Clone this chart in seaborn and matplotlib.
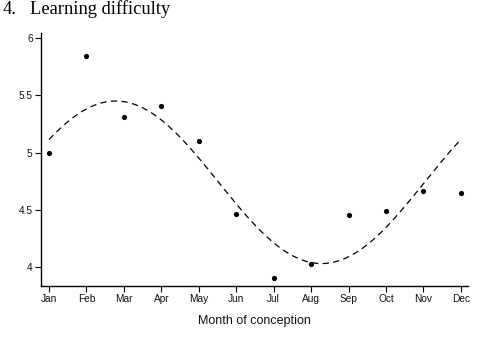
import numpy as np
import pandas as pd
import matplotlib
matplotlib.use("Agg")
import matplotlib.pyplot as plt
import seaborn as sns

# Data
months = ["Jan", "Feb", "Mar", "Apr", "May", "Jun",
          "Jul", "Aug", "Sep", "Oct", "Nov", "Dec"]
month_num = list(range(1, 13))
observed = [5.00, 5.84, 5.31, 5.41, 5.10, 4.46,
            3.90, 4.03, 4.45, 4.49, 4.66, 4.65]
y_ticks = [4, 4.5, 5, 5.5, 6]
y_tick_labels = ["4", "4.5", "5", "5.5", "6"]

# Fitted cosinor curve parameters
fit_mean = 4.74
fit_amplitude = 0.71
fit_peak_month = 2.78
fit_period = 11.0

sns.set_theme(style="white")
plt.rcParams['font.family'] = ['Liberation Sans', 'DejaVu Sans']

fig = plt.figure(figsize=(4.9, 3.43), dpi=100)
ax = fig.add_axes([41/490, 1 - 286/343, (468 - 41)/490, (286 - 33)/343])

df_pts = pd.DataFrame({"month": month_num, "value": observed})
xs = np.linspace(1, 12, 300)
curve = fit_mean + fit_amplitude * np.cos(2 * np.pi * (xs - fit_peak_month) / fit_period)
df_fit = pd.DataFrame({"month": xs, "value": curve})

sns.lineplot(data=df_fit, x="month", y="value", ax=ax, color="black",
             linewidth=0.9, dashes=False)
ax.lines[-1].set_dashes((5, 3.5))
sns.scatterplot(data=df_pts, x="month", y="value", ax=ax, color="black",
                s=14, edgecolor="black", linewidth=0, zorder=3)

ax.set_xlim(0.786, 12.19)
ax.set_ylim(3.834, 6.044)
ax.set_xticks(month_num)
ax.set_xticklabels(months, fontsize=7.3)
ax.set_yticks(y_ticks)
ax.set_yticklabels(y_tick_labels, fontsize=7.3)
ax.tick_params(axis="both", direction="out", length=4, width=0.8,
               color="black", pad=2, bottom=True, left=True, labelcolor="#111111")
ax.set_xlabel("Month of conception", fontsize=9, labelpad=8, color="#111111")
ax.set_ylabel("")
for side in ["top", "right"]:
    ax.spines[side].set_visible(False)
for side in ["left", "bottom"]:
    ax.spines[side].set_color("black")
    ax.spines[side].set_linewidth(1.0)

fig.text(3/490, 1 - 9/343, "4.", fontsize=13.3,
         family=["Liberation Serif", "DejaVu Serif"], va="center", ha="left",
         color="black")
fig.text(30/490, 1 - 9/343, "Learning difficulty", fontsize=13.3,
         family=["Liberation Serif", "DejaVu Serif"], va="center", ha="left",
         color="black")

fig.savefig("out.png", dpi=100)
